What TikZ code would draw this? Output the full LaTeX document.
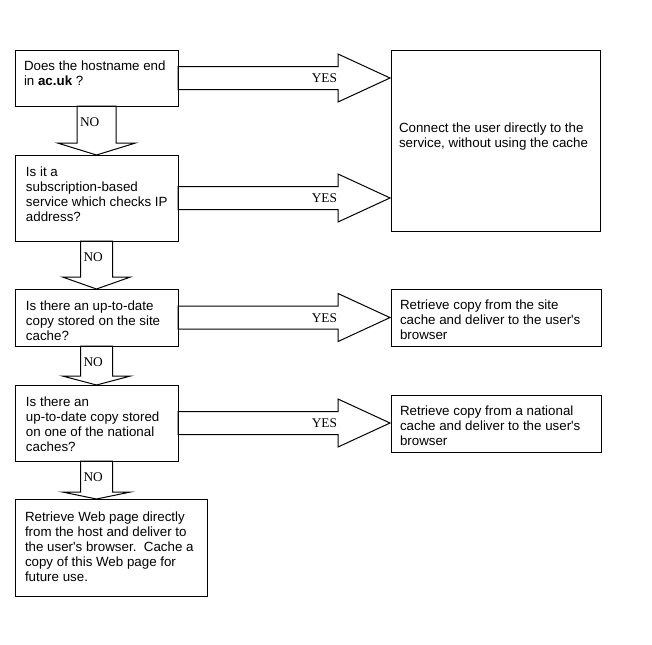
\documentclass[tikz,border=0pt]{standalone}
\usepackage{fontspec}
\setmainfont{Liberation Sans}
\newfontfamily\yesnofont{Liberation Serif}
\usetikzlibrary{calc,fit}
\tikzset{
  box/.style={draw=black, line width=0.75pt, inner sep=0pt, outer sep=0pt, rectangle},
  txt/.style={anchor=north west, inner sep=0pt, outer sep=0pt, align=left,
              font=\fontsize{10pt}{11.25pt}\selectfont},
  blk/.style={draw=black, line width=0.75pt, line join=miter},
  lab/.style={inner sep=0pt, outer sep=0pt, font=\yesnofont\fontsize{10pt}{12pt}\selectfont}
}
\newcommand\yesarrow[3]{%
  \coordinate (#3) at (#1.east -| #2.west);
  \draw[blk] ($(#1.east)+(0,-11.5)$) -- ($(#3)+(-53,-11.5)$) -- ($(#3)+(-53,-24)$)
     -- ($(#3)+(-1,0)$) -- ($(#3)+(-53,24)$) -- ($(#3)+(-53,11.5)$)
     -- ($(#1.east)+(0,11.5)$) -- cycle;
  \node[lab, anchor=base east] (#3l) at ($(#3)+(-54,4.5)$) {YES};
}
% from, to, shaft half, head half, head length, label name
\newcommand\noarrow[6]{%
  \coordinate (#6c) at (#1.south |- #2.north);
  \draw[blk] ($(#1.south)+(-#3,0)$) -- ($(#6c)+(-#3,-#5)$) -- ($(#6c)+(-#4,-#5)$)
     -- (#6c) -- ($(#6c)+(#4,-#5)$) -- ($(#6c)+(#3,-#5)$)
     -- ($(#1.south)+(#3,0)$) -- cycle;
  \node[lab, anchor=base west] (#6) at ($(#1.south)+(-#3+3,20)$) {NO};
}
\newcommand\apos{\textquotesingle}
\begin{document}
\begin{tikzpicture}[x=0.75pt,y=-0.75pt]
\useasboundingbox (0,0) rectangle (652,644);
% boxes
\node[box, fit={(15,50)(178,106)}] (b1) {};
\node[box, fit={(391,50)(600,231)}] (big) {};
\node[box, fit={(15,155)(178,241)}] (b2) {};
\node[box, fit={(15,289)(178,346)}] (b3) {};
\node[box, fit={(391,289)(601,346)}] (r3) {};
\node[box, fit={(15,385)(178,461)}] (b4) {};
\node[box, fit={(391,395)(601,452)}] (r4) {};
\node[box, fit={(15,499)(207,596)}] (b5) {};
% texts
\node[txt] (b1t) at ($(b1.north west)+(9,11)$) {Does the hostname end\\in \textbf{ac.uk} ?};
\node[txt] (b2t) at ($(b2.north west)+(11,12)$) {Is it a\\subscription-based\\service which checks IP\\address?};
\node[txt] (b3t) at ($(b3.north west)+(11,12)$) {Is there an up-to-date\\copy stored on the site\\cache?};
\node[txt] (b4t) at ($(b4.north west)+(11,12)$) {Is there an\\up-to-date copy stored\\on one of the national\\caches?};
\node[txt] (b5t) at ($(b5.north west)+(10,13)$) {Retrieve Web page directly\\from the host and deliver to\\the user\apos s browser.\ \ Cache a\\copy of this Web page for\\future use.};
\node[txt] (bigt) at ($(big.north west)+(8,73)$) {Connect the user directly to the\\service, without using the cache};
\node[txt] (r3t) at ($(r3.north west)+(9,11)$) {Retrieve copy from the site\\cache and deliver to the user\apos s\\browser};
\node[txt] (r4t) at ($(r4.north west)+(9,11)$) {Retrieve copy from a national\\cache and deliver to the user\apos s\\browser};
% YES arrows
\yesarrow{b1}{big}{y1}
\yesarrow{b2}{big}{y2}
\yesarrow{b3}{r3}{y3}
\yesarrow{b4}{r4}{y4}
% NO arrows
\noarrow{b1}{b2}{19.5}{39}{12}{n1}
\noarrow{b2}{b3}{16}{34}{12}{n2}
\noarrow{b3}{b4}{16}{34}{9}{n3}
\noarrow{b4}{b5}{16}{34}{7}{n4}
\end{tikzpicture}
\end{document}
